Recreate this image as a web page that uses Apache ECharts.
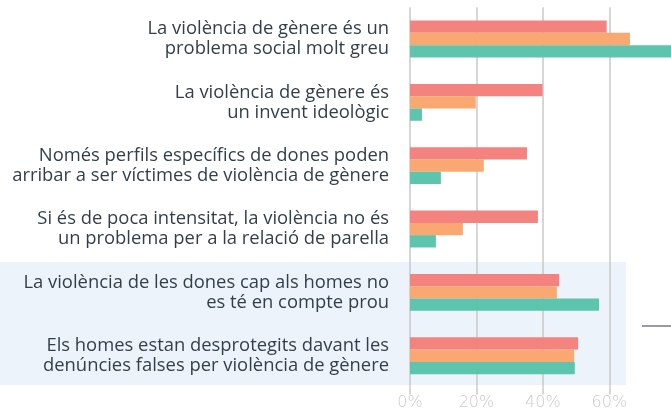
<!DOCTYPE html>
<html>
<head>
<meta charset="utf-8">
<title>Violència de gènere</title>
<style>
  html, body { margin: 0; padding: 0; background: #fff; }
  #chart { width: 671px; height: 412px; }
</style>
</head>
<body>
<div id="chart"></div>
<script src="https://cdn.jsdelivr.net/npm/echarts@6/dist/echarts.min.js"></script>
<script>
var categories = [
  'La violència de gènere és un\nproblema social molt greu',
  'La violència de gènere és\nun invent ideològic',
  'Només perfils específics de dones poden\narribar a ser víctimes de violència de gènere',
  'Si és de poca intensitat, la violència no és\nun problema per a la relació de parella',
  'La violència de les dones cap als homes no\nes té en compte prou',
  'Els homes estan desprotegits davant les\ndenúncies falses per violència de gènere'
];
var serieRed    = [59.2, 39.9, 35.2, 38.5, 44.9, 50.6];
var serieOrange = [66.2, 19.8, 22.2, 15.9, 44.2, 49.4];
var serieGreen  = [80.0,  3.6,  9.3,  7.8, 56.9, 49.6];
var tickLabels  = ['0%', '20%', '40%', '60%'];

var colors = ['#f4837f', '#f8a870', '#5dc4ad'];

var chart = echarts.init(document.getElementById('chart'));

function bar(name, data) {
  return {
    name: name,
    type: 'bar',
    data: data,
    barWidth: 12.3,
    barGap: '0%',
    silent: true
  };
}

var option = {
  color: colors,
  animation: false,
  // grid runs past the right edge so the 80% line falls outside the picture
  grid: { left: 410, width: 299, top: 7.3, bottom: 24.6, outerBoundsMode: 'none', containLabel: false },
  xAxis: {
    type: 'value',
    min: 0,
    max: 90,
    interval: 20,
    axisLine: { show: false },
    axisTick: { show: true, length: 7, lineStyle: { color: '#c9c9c9', width: 1.5 } },
    splitLine: { show: true, lineStyle: { color: '#c9c9c9', width: 1.5 } },
    axisLabel: {
      margin: 7,
      color: '#cacaca',
      fontFamily: 'DejaVu Sans',
      fontWeight: 200,
      fontSize: 16,
      formatter: function (v) {
        var i = v / 20;
        return (i === Math.floor(i) && i < tickLabels.length) ? tickLabels[i] : '';
      }
    }
  },
  yAxis: {
    type: 'category',
    inverse: true,
    data: categories,
    axisLine: { show: false },
    axisTick: { show: false },
    axisLabel: {
      margin: 21,
      align: 'right',
      color: '#333f48',
      fontFamily: 'Open Sans',
      fontSize: 18.4,
      lineHeight: 20
    }
  },
  graphic: [
    {
      type: 'rect',
      z: -10,
      shape: { x: 0, y: 262, width: 626, height: 123 },
      style: { fill: '#edf3fa' },
      silent: true
    },
    {
      type: 'line',
      shape: { x1: 642, y1: 326, x2: 671, y2: 326 },
      style: { stroke: '#9a9aa6', lineWidth: 2 },
      silent: true
    }
  ],
  series: [
    bar('A', serieRed),
    bar('B', serieOrange),
    bar('C', serieGreen)
  ]
};

chart.setOption(option);
</script>
</body>
</html>
